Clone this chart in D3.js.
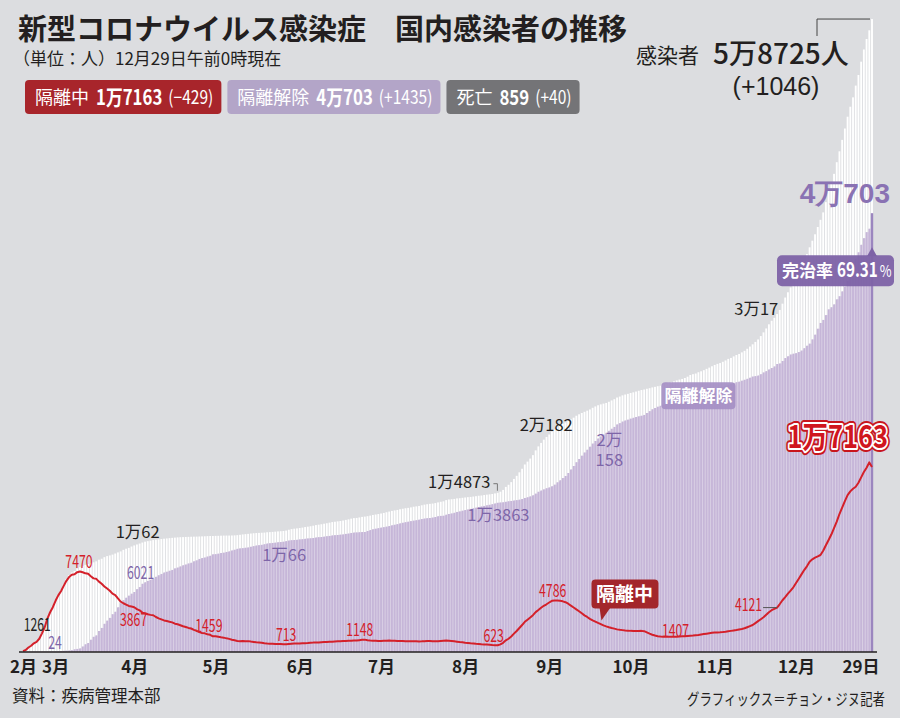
<!DOCTYPE html>
<html><head><meta charset="utf-8">
<script src="https://cdn.jsdelivr.net/npm/d3@7"></script>
<style>
body{margin:0;background:#dcdde0;}
svg{display:block;}
</style></head><body>
<svg id="c" width="900" height="718"></svg>
<script>
// ---------------- DATA (daily, 0:00 reports) ----------------
const startDate = "2020-02-20";   // first day shown
const endDate   = "2020-12-29";   // last day shown

// cumulative confirmed (感染者)
const confirmed = [
 104,204,433,602,833,977,1261,1766,2337,3150,
 3736,4212,4812,5328,5766,6284,6767,7134,7382,7513,7755,7869,7979,8086,8162,8236,8320,8413,8565,8652,8799,8897,8961,9037,9137,9241,9332,9478,9583,9661,9786,
 9887,9976,10062,10156,10237,10284,10331,10384,10423,10450,10480,10512,10537,10564,10591,10613,10635,10653,10661,10674,10683,10694,10702,10708,10718,10728,10738,10752,10761,10765,
 10774,10780,10793,10801,10804,10806,10810,10822,10840,10874,10909,10936,10962,10991,11018,11037,11050,11065,11078,11110,11122,11142,11165,11190,11206,11225,11265,11344,11402,11441,11468,
 11503,11541,11590,11629,11668,11719,11776,11814,11852,11902,11947,12003,12051,12085,12121,12155,12198,12257,12306,12373,12421,12438,12484,12535,12563,12602,12653,12715,12757,12800,
 12850,12904,12967,13030,13091,13137,13181,13244,13293,13338,13373,13417,13479,13512,13551,13612,13672,13711,13745,13771,13816,13879,13938,13979,14092,14150,14175,14203,14251,14269,14305,
 14336,14366,14389,14423,14456,14499,14519,14562,14598,14626,14660,14714,14770,14873,15039,15318,15515,15761,16058,16346,16670,17002,17399,17665,17945,18265,18706,19077,19400,19699,19947,
 20182,20449,20644,20842,21010,21177,21296,21432,21588,21743,21919,22055,22176,22285,22391,22504,22657,22783,22893,22975,23045,23106,23216,23341,23455,23611,23699,23812,23889,23952,
 24027,24091,24164,24239,24303,24353,24422,24476,24548,24602,24660,24703,24805,24889,24988,25035,25108,25199,25275,25333,25424,25543,25698,25775,25836,25955,26043,26146,26271,26385,26511,
 26635,26732,26807,26925,27050,27195,27284,27427,27553,27653,27799,27942,28133,28338,28546,28769,28998,29311,29654,30017,30403,30733,31004,31353,31735,32318,32887,33375,33824,34201,
 34652,35163,35703,36332,36915,37546,38161,38755,39432,40098,40786,41736,42766,43484,44364,45442,46453,47515,48570,49665,50591,51460,52550,53533,54770,55902,56872,57680,58725
];

// currently isolated (隔離中) – the red line
const isolated = [
 87,186,415,578,807,945,1227,1729,2294,3105,
 3686,4160,4753,5255,5643,6134,6605,6954,7165,7212,7407,7470,7402,7300,7253,7024,6832,6789,6527,6325,6085,5884,5684,5410,5281,4966,4665,4523,4398,4275,4216,
 4155,3979,3867,3654,3591,3500,3445,3408,3246,3125,3026,2930,2873,2808,2750,2627,2576,2484,2385,2324,2233,2179,2051,1967,1843,1769,1731,1654,1593,1459,
 1454,1407,1360,1332,1267,1218,1135,1082,1016,1008,1021,1008,1008,969,937,900,880,862,818,790,770,760,752,745,738,725,713,735,760,780,790,
 786,803,818,826,851,870,882,889,908,924,931,955,960,972,986,991,1012,1020,1037,1049,1065,1071,1098,1126,1148,1089,1062,1047,1035,1028,
 1029,1041,1053,1060,1055,1047,1032,1026,1018,1006,998,987,1002,996,985,990,1003,1011,1020,1008,996,989,1012,1039,1060,1046,1021,993,957,921,896,
 864,840,812,790,762,741,716,705,686,668,642,631,623,705,850,1080,1230,1440,1700,1950,2230,2500,2800,3000,3200,3420,3700,3900,4110,4290,4430,
 4590,4750,4786,4770,4750,4700,4620,4480,4300,4130,3950,3780,3590,3400,3250,3080,2940,2820,2700,2590,2470,2380,2300,2230,2170,2100,2060,2030,2000,1980,
 1960,1950,1940,1950,1960,1930,1820,1700,1600,1530,1470,1430,1420,1410,1407,1410,1415,1420,1430,1450,1470,1490,1510,1530,1560,1580,1620,1660,1700,1740,1780,
 1800,1820,1830,1850,1880,1920,1960,2000,2040,2090,2140,2200,2300,2400,2500,2680,2860,3040,3220,3460,3690,3880,4000,4121,4450,4800,5100,5420,5700,6000,
 6400,6800,7200,7600,7950,8380,8600,8750,8870,9000,9400,9900,10390,10900,11500,12090,12800,13400,14000,14560,14900,15150,15330,15700,16200,16700,17100,17592,17163
];

// cumulative deaths (死亡)
const deaths = [
 1,2,2,6,8,10,12,13,16,17,
 20,22,28,32,35,42,44,50,51,54,60,66,67,72,75,75,81,84,91,94,102,104,111,120,126,131,139,144,152,158,162,
 165,169,174,177,183,186,192,200,204,208,211,214,217,222,225,229,230,232,234,236,237,238,240,240,240,242,243,244,246,247,
 248,250,250,252,254,255,256,256,256,256,256,258,259,260,260,262,262,263,263,263,264,264,266,266,267,269,269,269,269,269,270,
 271,272,273,273,273,273,273,273,276,276,276,277,277,277,277,277,279,279,280,280,280,280,280,281,281,282,282,282,282,282,
 282,282,283,283,284,285,285,285,287,288,288,289,289,289,289,289,291,292,293,293,294,296,297,297,298,298,299,299,300,301,301,
 301,302,302,302,302,302,304,304,304,305,305,305,305,305,305,305,305,306,306,307,309,309,309,309,310,312,313,313,316,321,324,
 324,326,331,334,336,341,344,346,355,358,363,367,372,377,378,379,384,385,388,388,393,395,395,401,401,401,406,407,413,415,
 415,417,420,422,425,428,429,430,432,432,434,434,434,438,439,441,444,444,444,444,446,450,455,457,457,458,460,461,463,464,466,
 468,472,474,476,477,478,478,480,484,486,487,488,491,492,494,494,496,498,498,501,503,505,510,513,515,516,519,522,523,526,
 526,536,540,549,552,556,559,564,568,569,575,580,587,600,612,634,645,659,667,674,698,722,739,756,793,808,819,819,859
];

// released (隔離解除) = confirmed − isolated − deaths
const released = confirmed.map((c, i) => c - isolated[i] - deaths[i]);

// axis ticks
const tickDates  = ["2020-02-20","2020-03-01","2020-04-01","2020-05-01","2020-06-01","2020-07-01","2020-08-01","2020-09-01","2020-10-01","2020-11-01","2020-12-01","2020-12-29"];
const tickLabels = ["2月","3月","4月","5月","6月","7月","8月","9月","10月","11月","12月","29日"];

// legend
const legendNames  = ["隔離中","隔離解除","死亡"];
const legendValues = ["1万7163","4万703","859"];
const legendDeltas = ["(−429)","(+1435)","(+40)"];

// headline numbers
const totalText = "5万8725人";
const totalDelta = "(+1046)";
const recoveryRate = "69.31";

// value annotations: date, series, text
const notes = [
 {d:"2020-02-26", s:"confirmed", t:"1261"},
 {d:"2020-02-27", s:"released",  t:"24"},
 {d:"2020-03-12", s:"isolated",  t:"7470"},
 {d:"2020-04-03", s:"released",  t:"6021"},
 {d:"2020-04-03", s:"confirmed", t:"1万62"},
 {d:"2020-04-03", s:"isolated",  t:"3867"},
 {d:"2020-04-30", s:"isolated",  t:"1459"},
 {d:"2020-05-20", s:"released",  t:"1万66"},
 {d:"2020-05-27", s:"isolated",  t:"713"},
 {d:"2020-06-25", s:"isolated",  t:"1148"},
 {d:"2020-08-14", s:"confirmed", t:"1万4873"},
 {d:"2020-08-14", s:"released",  t:"1万3863"},
 {d:"2020-08-13", s:"isolated",  t:"623"},
 {d:"2020-09-01", s:"confirmed", t:"2万182"},
 {d:"2020-09-03", s:"isolated",  t:"4786"},
 {d:"2020-09-25", s:"released",  t:"2万|158"},
 {d:"2020-10-15", s:"isolated",  t:"1407"},
 {d:"2020-11-24", s:"isolated",  t:"4121"},
 {d:"2020-11-20", s:"confirmed", t:"3万17"}
];

// ---------------- LAYOUT / STYLE ----------------
const noteLayout = [
 {dx:-2, dy:-7, a:"middle"},
 {dx:13, dy:-3, a:"middle"},
 {dx:-1, dy:-3, a:"middle"},
 {dx:1, dy:-8, a:"middle"},
 {dx:-2, dy:-6, a:"middle"},
 {dx:-6, dy:16, a:"middle"},
 {dx:-4, dy:-4, a:"middle"},
 {dx:17, dy:17, a:"middle"},
 {dx:0, dy:-3, a:"middle"},
 {dx:-5, dy:-4, a:"middle"},
 {dx:-10, dy:-4, a:"end"},
 {dx:-2, dy:18, a:"middle"},
 {dx:-4, dy:-3, a:"middle"},
 {dx:-3, dy:-3, a:"middle"},
 {dx:-2, dy:-3, a:"middle"},
 {dx:-5, dy:19, a:"middle"},
 {dx:7, dy:0, a:"middle"},
 {dx:-15, dy:3, a:"end"},
 {dx:-10, dy:-13, a:"middle"}
];
const colors = {confirmed:"#231f20", released:"#7e66a9", isolated:"#d4202a"};
const CJK = "'Noto Sans CJK JP','Noto Sans',sans-serif";

// condense a text horizontally (the original uses a condensed typeface).
// The text is re-anchored at its start so that its box is exact; returns the new width.
function squeeze(sel, f, ax, anchor) {
  const node = sel.node();
  const L = node.getComputedTextLength();
  const w = L * f;
  node.setAttribute("textLength", w.toFixed(2));
  node.setAttribute("lengthAdjust", "spacingAndGlyphs");
  if (ax !== undefined) {
    const sx = anchor === "middle" ? ax - w / 2 : anchor === "end" ? ax - w : ax;
    sel.attr("text-anchor", "start").attr("x", sx);
  }
  return w;
}

const svg = d3.select("#c");
const W = 900, H = 718;
const parse = d3.utcParse("%Y-%m-%d");
const t0 = parse(startDate), t1 = parse(endDate);
const N = confirmed.length;
const dates = d3.range(N).map(i => d3.utcDay.offset(t0, i));
const idx = s => d3.utcDay.count(t0, parse(s));

const x = d3.scaleUtc().domain([t0, t1]).range([23, 872]);
const y = d3.scaleLinear().domain([0, 60000]).range([652, 5.3]);
const step = (x.range()[1] - x.range()[0]) / (N - 1);
const bw = step * 0.68;
const series = {confirmed, released, isolated};

// background
svg.append("rect").attr("width", W).attr("height", H).attr("fill", "#dcdde0");

// white bars (confirmed)
svg.append("g").selectAll("rect").data(dates).join("rect")
  .attr("x", (d) => x(d) - bw / 2)
  .attr("y", (d, i) => y(confirmed[i]))
  .attr("width", bw)
  .attr("height", (d, i) => y(0) - y(confirmed[i]))
  .attr("fill", "#ffffff");

// purple base area + bars (released)
svg.append("path")
  .datum(dates)
  .attr("d", d3.area().x(d => x(d)).y0(y(0)).y1((d, i) => y(released[i])).curve(d3.curveStepAfter))
  .attr("fill", "#dbd2e6");
svg.append("g").selectAll("rect").data(dates).join("rect")
  .attr("x", (d) => x(d) - bw / 2)
  .attr("y", (d, i) => y(released[i]))
  .attr("width", bw)
  .attr("height", (d, i) => y(0) - y(released[i]))
  .attr("fill", "#c6b6d8");

// highlight last released bar
svg.append("rect")
  .attr("x", x(t1) - 1.2).attr("y", y(released[N - 1]))
  .attr("width", 2.4).attr("height", y(0) - y(released[N - 1]))
  .attr("fill", "#9b86bf");

// red isolation line
svg.append("path")
  .datum(dates)
  .attr("d", d3.line().x(d => x(d)).y((d, i) => y(isolated[i])))
  .attr("fill", "none").attr("stroke", "#d4202a").attr("stroke-width", 2).attr("stroke-linejoin", "round");

// x axis
const tickD = tickDates.map(parse);
const axis = d3.axisBottom(x).tickValues(tickD).tickSize(0).tickFormat((d, i) => tickLabels[i]);
const gx = svg.append("g").attr("transform", `translate(0,${y(0)})`).call(axis);
gx.select(".domain").remove();
gx.selectAll("text")
  .attr("font-family", CJK).attr("font-weight", "bold").attr("font-size", 17)
  .attr("fill", "#231f20").attr("dy", "1.05em")
  .attr("text-anchor", (d, i) => i === tickD.length - 1 ? "end" : "middle")
  .attr("dx", (d, i) => i === tickD.length - 1 ? 7 : (i === 1 ? 5 : 0));
svg.append("line")
  .attr("x1", x.range()[0] - 4).attr("x2", x.range()[1] + 5)
  .attr("y1", y(0)).attr("y2", y(0))
  .attr("stroke", "#231f20").attr("stroke-width", 1.6);

// value annotations
notes.forEach((n, k) => {
  const L = noteLayout[k];
  const i = idx(n.d);
  const px = x(dates[i]) + L.dx, py = y(series[n.s][i]) + L.dy;
  const pureNumber = /^\d+$/.test(n.t);
  n.t.split("|").forEach((ln, j) => {
    const tx = svg.append("text")
      .attr("x", px).attr("y", py + j * 20)
      .attr("text-anchor", L.a)
      .attr("font-family", CJK)
      .attr("font-size", pureNumber ? 18 : 16.5)
      .attr("fill", colors[n.s])
      .text(ln);
    if (pureNumber) squeeze(tx, 0.68, px, L.a);
  });
});
// little bracket for 1万4873
{
  const i = idx("2020-08-14");
  const bx = x(dates[i]) - 3, by = y(confirmed[i]) - 8;
  svg.append("path").attr("d", `M${bx - 4},${by} H${bx} V${by + 7}`)
    .attr("fill", "none").attr("stroke", "#777").attr("stroke-width", 1);
}
// dash for 4121
{
  const i = idx("2020-11-24");
  const px = x(dates[i]), py = y(isolated[i]);
  svg.append("line").attr("x1", px - 14).attr("x2", px).attr("y1", py).attr("y2", py)
    .attr("stroke", "#555").attr("stroke-width", 1);
}

// big end labels
const iLast = N - 1;
{
  const px = x(t1) + 16, py = y(isolated[iLast]) - 19;
  const txt = legendValues[0];
  const base = g => g.attr("x", px).attr("y", py).attr("text-anchor", "end")
     .attr("font-family", CJK).attr("font-weight", "bold").attr("font-size", 31).text(txt);
  const a = svg.append("text").call(base).attr("fill", "none").attr("stroke", "#c8161d").attr("stroke-width", 8).attr("stroke-linejoin", "round");
  const b = svg.append("text").call(base).attr("fill", "none").attr("stroke", "#fff").attr("stroke-width", 4).attr("stroke-linejoin", "round");
  const c = svg.append("text").call(base).attr("fill", "#d0161e");
  [a, b, c].forEach(s => squeeze(s, 0.82, px, "end"));
}
svg.append("text")
  .attr("x", x(t1) + 18).attr("y", y(released[iLast]) - 10).attr("text-anchor", "end")
  .attr("font-family", "'Liberation Sans',sans-serif").attr("font-weight", "bold").attr("font-size", 28)
  .attr("fill", "#8a72b3").text(legendValues[1]);

// recovery-rate bubble
{
  const ax = x(t1), ay = y(released[iLast]) + 34;
  const g = svg.append("g");
  g.append("path").attr("d", `M${ax - 5},${ay + 9} L${ax},${ay} L${ax + 5},${ay + 9} Z`).attr("fill", "#7d62a6");
  g.append("rect").attr("x", ax - 95).attr("y", ay + 8).attr("width", 117).attr("height", 31).attr("rx", 5).attr("fill", "#7d62a6").attr("opacity", 0.95);
  const t1a = g.append("text").attr("x", ax - 90).attr("y", ay + 30).attr("fill", "#fff").attr("font-family", CJK).attr("font-size", 17).attr("font-weight", "bold").text("完治率");
  const x2 = ax - 90 + t1a.node().getComputedTextLength() + 4;
  const t2 = g.append("text").attr("x", x2).attr("y", ay + 30).attr("fill", "#fff").attr("font-family", CJK).attr("font-size", 20).attr("font-weight", "bold").text(recoveryRate);
  const w2 = squeeze(t2, 0.76);
  const x3 = x2 + w2 + 2;
  const t3 = g.append("text").attr("x", x3).attr("y", ay + 30).attr("fill", "#fff").attr("font-family", CJK).attr("font-size", 16).text("%");
  squeeze(t3, 0.8);
}

// series bubbles
{
  const i = idx("2020-10-26");
  const px = x(dates[i]), py = y(released[i]);
  const g = svg.append("g");
  g.append("rect").attr("x", px - 37).attr("y", py - 12).attr("width", 74).attr("height", 27).attr("rx", 4).attr("fill", "#a58fc4").attr("opacity", 0.92);
  g.append("text").attr("x", px).attr("y", py + 8).attr("text-anchor", "middle")
    .attr("fill", "#fff").attr("font-family", CJK).attr("font-weight", "bold").attr("font-size", 17).text("隔離解除");
}
{
  const i = idx("2020-09-21");
  const px = x(dates[i]), py = y(isolated[i]);
  const g = svg.append("g");
  g.append("path").attr("d", `M${px - 4},${py - 18} L${px - 2},${py - 5} L${px + 7},${py - 18} Z`).attr("fill", "#a3262b");
  g.append("rect").attr("x", px - 12).attr("y", py - 46).attr("width", 67).attr("height", 29).attr("rx", 4).attr("fill", "#a3262b");
  g.append("text").attr("x", px + 21).attr("y", py - 24).attr("text-anchor", "middle")
    .attr("fill", "#fff").attr("font-family", CJK).attr("font-weight", "bold").attr("font-size", 19).text("隔離中");
}

// title & subtitle
svg.append("text").attr("x", 18).attr("y", 40)
  .attr("font-family", CJK).attr("font-weight", 700).attr("font-size", 29).attr("fill", "#231f20")
  .text("新型コロナウイルス感染症　国内感染者の推移");
svg.append("text").attr("x", 13).attr("y", 65)
  .attr("font-family", CJK).attr("font-size", 17).attr("fill", "#231f20")
  .text("（単位：人）12月29日午前0時現在");

// legend boxes
const legendColors = ["#a8252b", "#b3a5c8", "#747477"];
let lx = 25;
legendNames.forEach((name, k) => {
  const g = svg.append("g");
  const rect = g.append("rect").attr("y", 80).attr("height", 34).attr("rx", 4).attr("fill", legendColors[k]);
  let cx = lx + 10;
  const a = g.append("text").attr("x", cx).attr("y", 104).attr("fill", "#fff")
    .attr("font-family", CJK).attr("font-size", 18).text(name);
  cx += a.node().getComputedTextLength() + 7;
  const b = g.append("text").attr("x", cx).attr("y", 105).attr("fill", "#fff")
    .attr("font-family", CJK).attr("font-weight", "bold").attr("font-size", 21).text(legendValues[k]);
  cx += squeeze(b, 0.8) + 6;
  const c = g.append("text").attr("x", cx).attr("y", 104).attr("fill", "#fff")
    .attr("font-family", CJK).attr("font-size", 18.5).text(legendDeltas[k]);
  cx += squeeze(c, 0.84);
  const w = cx + 8 - lx;
  rect.attr("x", lx).attr("width", w);
  lx += w + 6;
});

// headline total
svg.append("text").attr("x", 636).attr("y", 63).attr("font-family", CJK).attr("font-size", 21).attr("fill", "#231f20").text("感染者");
svg.append("text").attr("x", 713).attr("y", 64).attr("font-family", CJK).attr("font-weight", 500).attr("font-size", 28).attr("fill", "#231f20").text(totalText);
svg.append("text").attr("x", 776).attr("y", 95).attr("text-anchor", "middle").attr("font-family", "'Liberation Sans',sans-serif").attr("font-size", 25).attr("fill", "#231f20").text(totalDelta);
svg.append("path").attr("d", `M817,36 V${y(confirmed[iLast])} H${x(t1) - 2}`).attr("fill", "none").attr("stroke", "#444").attr("stroke-width", 1);

// footer
svg.append("text").attr("x", 12).attr("y", 702).attr("font-family", CJK).attr("font-size", 16.5).attr("fill", "#231f20").text("資料：疾病管理本部");
const credit = svg.append("text").attr("x", 885).attr("y", 705).attr("font-family", CJK).attr("font-size", 16).attr("fill", "#231f20").text("グラフィックス＝チョン・ジヌ記者");
squeeze(credit, 198 / credit.node().getComputedTextLength(), 885, "end");
</script>
</body></html>
